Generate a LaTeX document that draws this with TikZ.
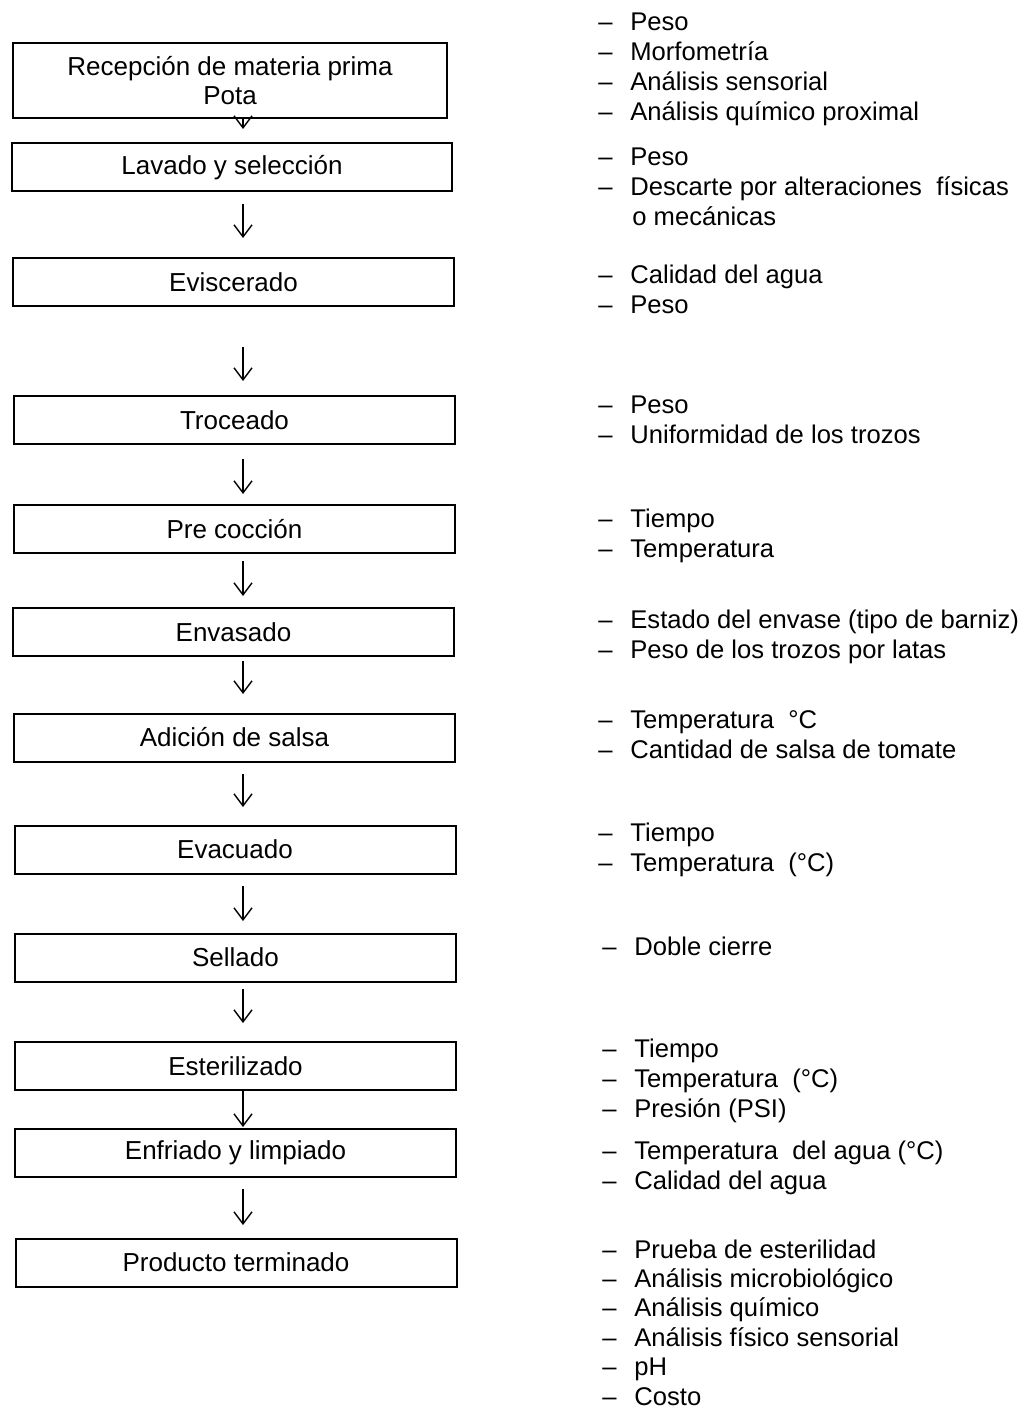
\documentclass[tikz,border=0pt]{standalone}
\usepackage{fontspec}
\setmainfont{Liberation Sans}
\usetikzlibrary{arrows.meta}
\tikzstyle{proceso} = [rectangle, draw, line width=1pt, minimum width=220.5pt, minimum height=24pt, inner sep=0pt, text centered, font=\fontsize{13}{14.5}\selectfont]
\tikzstyle{nota} = [anchor=base west, inner sep=0pt, font=\fontsize{12.8}{15}\selectfont]
\tikzstyle{flecha} = [line width=0.7pt, -{Straight Barb[length=6pt,width=9pt]}]
\newcommand{\guion}{\makebox[16pt][l]{–}}
\newcommand{\linea}[1]{\hbox{\guion #1}}

\begin{document}
\begin{tikzpicture}[x=0.5pt, y=-0.5pt]
    \useasboundingbox (0,0) rectangle (1023,1411);
    % etapas del proceso
    \node [proceso, minimum width=217pt, minimum height=37.5pt, align=center] at (230,81) (recepcion) {Recepción de materia prima\\Pota};
    \node [proceso, minimum width=220pt] at (232,167.5) (lavado) {Lavado y selección};
    \node [proceso] at (233.5,282.5) (eviscerado) {Eviscerado};
    \node [proceso] at (234.5,420) (troceado) {Troceado};
    \node [proceso] at (234.5,529) (precoccion) {Pre cocción};
    \node [proceso] at (233.5,632) (envasado) {Envasado};
    \node [proceso] at (234.5,737.5) (salsa) {Adición de salsa};
    \node [proceso] at (235,849.5) (evacuado) {Evacuado};
    \node [proceso] at (235.5,957.5) (sellado) {Sellado};
    \node [proceso] at (235.5,1066) (esterilizado) {Esterilizado};
    \node [proceso] at (235.5,1152.5) (enfriado) {Enfriado y limpiado};
    \node [proceso] at (236,1262.5) (producto) {Producto terminado};
    % controles
    \node [nota] at (598,31) (n1) {\vtop{\linea{Peso}\linea{Morfometría}\linea{Análisis sensorial}\linea{Análisis químico proximal}}};
    \node [nota] at (598,166) (n2) {\vtop{\linea{Peso}\linea{Descarte por alteraciones\ \ físicas}\hbox{\hspace*{17pt}o mecánicas}}};
    \node [nota] at (598,284) (n3) {\vtop{\linea{Calidad del agua}\linea{Peso}}};
    \node [nota] at (598,414) (n4) {\vtop{\linea{Peso}\linea{Uniformidad de los trozos}}};
    \node [nota] at (598,527) (n5) {\vtop{\linea{Tiempo}\linea{Temperatura}}};
    \node [nota] at (598,628) (n6) {\vtop{\linea{Estado del envase (tipo de barniz)}\linea{Peso de los trozos por latas}}};
    \node [nota] at (598,728) (n7) {\vtop{\linea{Temperatura\ \ °C}\linea{Cantidad de salsa de tomate}}};
    \node [nota] at (598,841) (n8) {\vtop{\linea{Tiempo}\linea{Temperatura\ \ (°C)}}};
    \node [nota] at (602,955) (n9) {\vtop{\linea{Doble cierre}}};
    \node [nota] at (602,1057) (n10) {\vtop{\linea{Tiempo}\linea{Temperatura\ \ (°C)}\linea{Presión (PSI)}}};
    \node [nota] at (602,1159) (n11) {\vtop{\linea{Temperatura\ \ del agua (°C)}\linea{Calidad del agua}}};
    \node [nota, font=\fontsize{12.8}{14.7}\selectfont] at (602,1258) (n12) {\vtop{\linea{Prueba de esterilidad}\linea{Análisis microbiológico}\linea{Análisis químico}\linea{Análisis físico sensorial}\linea{pH}\linea{Costo}}};
    % flechas
    \coordinate (eje) at (243,0);
    \draw [flecha, shorten >=6.75pt] (recepcion.south -| eje) -- (lavado.north -| eje);
    \draw [flecha, shorten <=5.75pt, shorten >=9.75pt] (lavado.south -| eje) -- (eviscerado.north -| eje);
    \draw [flecha, shorten <=19.75pt, shorten >=7pt] (eviscerado.south -| eje) -- (troceado.north -| eje);
    \draw [flecha, shorten <=7pt, shorten >=5pt] (troceado.south -| eje) -- (precoccion.north -| eje);
    \draw [flecha, shorten <=3.5pt, shorten >=5.5pt] (precoccion.south -| eje) -- (envasado.north -| eje);
    \draw [flecha, shorten <=2pt, shorten >=9.25pt] (envasado.south -| eje) -- (salsa.north -| eje);
    \draw [flecha, shorten <=5.75pt, shorten >=8.75pt] (salsa.south -| eje) -- (evacuado.north -| eje);
    \draw [flecha, shorten <=5.75pt, shorten >=5.75pt] (evacuado.south -| eje) -- (sellado.north -| eje);
    \draw [flecha, shorten <=3.25pt, shorten >=9pt] (sellado.south -| eje) -- (esterilizado.north -| eje);
    \draw [flecha, shorten >=0.25pt] (esterilizado.south -| eje) -- (enfriado.north -| eje);
    \draw [flecha, shorten <=5.75pt, shorten >=6.25pt] (enfriado.south -| eje) -- (producto.north -| eje);
\end{tikzpicture}
\end{document}
